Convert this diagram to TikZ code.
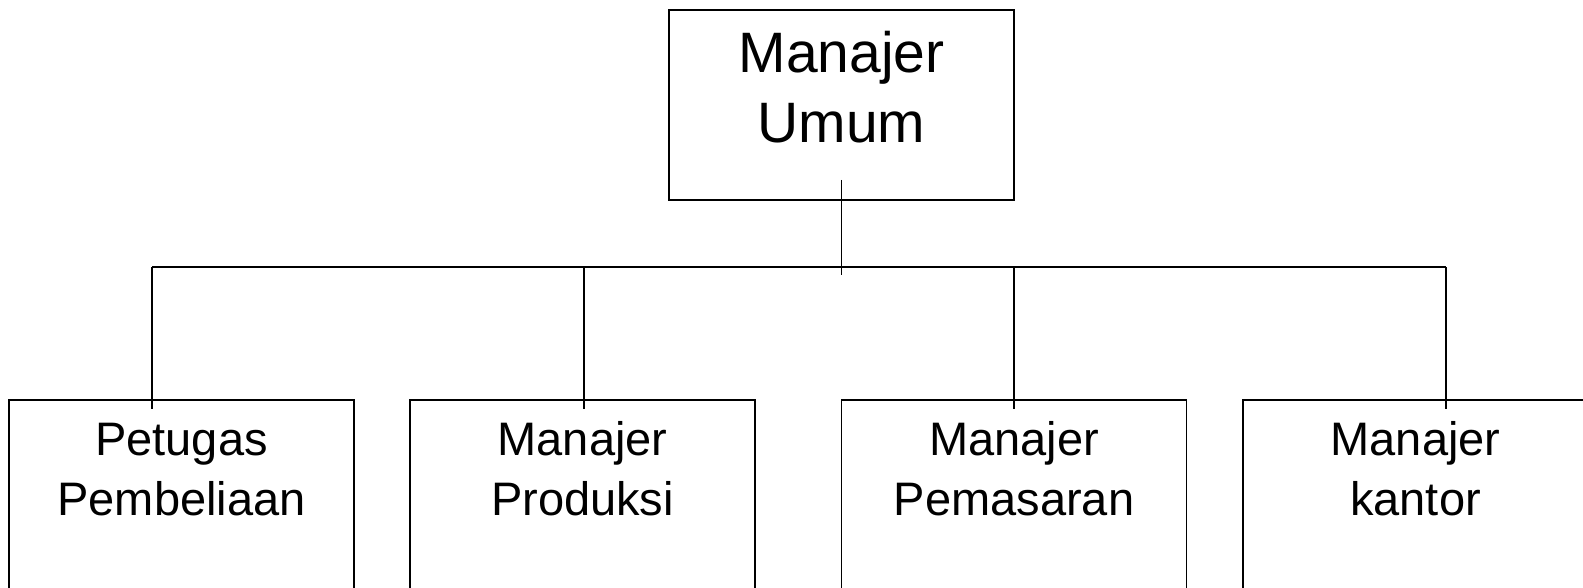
\documentclass[tikz,border=0pt]{standalone}
\usepackage{fontspec}
\setmainfont{Liberation Sans}
\usepackage{tikz}
\usetikzlibrary{positioning, calc}
\tikzstyle{headbox} = [rectangle, draw=black, anchor=north, minimum width=345pt, align=center,
  font=\fontsize{57}{70}\selectfont, text height=111pt, text depth=35pt, inner ysep=22pt, line width=1.8pt]
\tikzstyle{unitbox} = [rectangle, draw=black, anchor=north, minimum width=345pt, align=center,
  font=\fontsize{47}{60}\selectfont, text height=94pt, text depth=113pt, inner ysep=22pt, line width=1.8pt]
\tikzstyle{line} = [line width=1.8pt, black]
\begin{document}
\begin{tikzpicture}[x=1pt, y=-1pt]
  \clip (0,0) rectangle (1583,587);
  \fill[white] (0,0) rectangle (1583,587);

  \node (umum)  [headbox] at (841.5,9) {Manajer\\Umum};
  \node (beli)  [unitbox] at (181.5,399) {Petugas\\Pembeliaan};
  \node (prod)  [unitbox] at (582.5,399) {Manajer\\Produksi};
  \node (pasar) [unitbox] at (1014,399) {Manajer\\Pemasaran};
  \node (kantor)[unitbox] at (1415.5,399) {Manajer\\kantor};

  % branch points on the bus
  \coordinate (j1) at (152,267);
  \coordinate (j2) at (584,267);
  \coordinate (j3) at (1014,267);
  \coordinate (j4) at (1446,267);

  \draw[line] ([yshift=21pt]umum.south) -- ([yshift=-8pt]umum.south |- j1);
  \draw[line] (j1) -- (j4);
  \draw[line] (j1) -- ([yshift=-10pt]beli.north -| j1);
  \draw[line] (j2) -- ([yshift=-10pt]prod.north -| j2);
  \draw[line] (j3) -- ([yshift=-10pt]pasar.north -| j3);
  \draw[line] (j4) -- ([yshift=-10pt]kantor.north -| j4);
\end{tikzpicture}
\end{document}
